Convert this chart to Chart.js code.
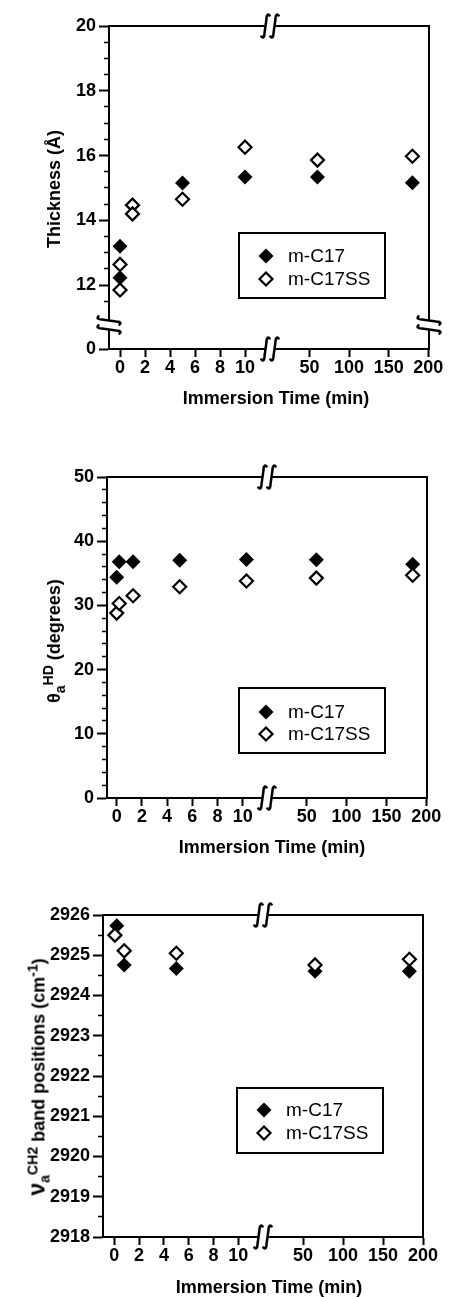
<!DOCTYPE html>
<html lang="en">
<head>
<meta charset="UTF-8">
<title>Immersion time plots</title>
<script src="https://cdn.jsdelivr.net/npm/chart.js"></script>
<style>
  body { margin: 0; width: 450px; height: 1297px; position: relative; background: #fff;
         font-family: "Liberation Sans", Arial, sans-serif; color: #000; }
  canvas { position: absolute; left: 0; }
  .title { position: absolute; white-space: nowrap; font-weight: bold; font-size: 18px; line-height: 1; }
  .xt { transform: translate(-50%, -50%); }
  .yt { transform: translate(-50%, -50%) rotate(-90deg); }
  sub, sup { font-size: 78%; line-height: 0; }
  .nu { font-size: 23px; }
</style>
</head>
<body>
<canvas id="thick" width="450" height="425" style="top:0"></canvas>
<canvas id="angle" width="450" height="430" style="top:425px"></canvas>
<canvas id="band" width="450" height="442" style="top:855px"></canvas>

<div class="title yt" style="left:54px;top:189px">Thickness (Å)</div>
<div class="title xt" style="left:276px;top:398px">Immersion Time (min)</div>

<div class="title yt" style="left:54px;top:641px">θ<sub>a</sub><sup>HD</sup> (degrees)</div>
<div class="title xt" style="left:272px;top:847px">Immersion Time (min)</div>

<div class="title yt" style="left:37px;top:1077px"><span class="nu">ν</span><sub>a</sub><sup>CH2</sup> band positions (cm<sup>-1</sup>)</div>
<div class="title xt" style="left:269px;top:1287px">Immersion Time (min)</div>

<script>
const seriesNames = ['m-C17', 'm-C17SS'];

// film thickness (Å)
const thickTimeC17 = [0, 0, 5, 10, 60, 180];
const thickC17 = [13.2, 12.23, 15.15, 15.34, 15.34, 15.16];
const thickTimeC17SS = [0, 0, 1, 1, 5, 10, 60, 180];
const thickC17SS = [11.85, 12.64, 14.47, 14.2, 14.65, 16.26, 15.86, 15.98];

// advancing contact angle of hexadecane (degrees)
const angleTimeC17 = [0, 0.2, 1.3, 5, 10.3, 62, 183];
const angleC17 = [34.4, 36.8, 36.8, 37.05, 37.15, 37.1, 36.4];
const angleTimeC17SS = [0, 0.2, 1.3, 5, 10.3, 62, 183];
const angleC17SS = [28.8, 30.3, 31.5, 32.9, 33.8, 34.25, 34.7];

// antisymmetric CH2 band position (cm-1)
const bandTimeC17 = [0.2, 0.8, 5, 65, 183];
const bandC17 = [2925.73, 2924.76, 2924.67, 2924.6, 2924.6];
const bandTimeC17SS = [0.05, 0.8, 5, 65, 183];
const bandC17SS = [2925.5, 2925.11, 2925.05, 2924.76, 2924.9];

// ticks
const earlyTicks = [0, 2, 4, 6, 8, 10];
const lateTicks = [50, 100, 150, 200];
const thickTicks = [12, 14, 16, 18, 20];
const thickLowTicks = [0];
const angleTicks = [0, 10, 20, 30, 40, 50];
const bandTicks = [2918, 2919, 2920, 2921, 2922, 2923, 2924, 2925, 2926];

const FONT = '"Liberation Sans", Arial, sans-serif';
const BREAK_T = 12; // last minute on the left part of the time axis

function pts(times, vals, late) {
    return times.map((t, i) => ({ x: t, y: vals[i] }))
        .filter(p => late ? p.x > BREAK_T : p.x <= BREAK_T);
}

function seriesSets(tA, vA, tB, vB, yID) {
    const open = { pointStyle: 'rectRot', pointRadius: 6.5, pointBackgroundColor: '#fff',
                   pointBorderColor: '#000', pointBorderWidth: 2.2, showLine: false };
    const solid = { pointStyle: 'rectRot', pointRadius: 7.5, pointBackgroundColor: '#000',
                    pointBorderColor: '#000', pointBorderWidth: 0, showLine: false };
    // open markers first so they are drawn on top
    return [
        { label: seriesNames[1], data: pts(tB, vB, false), xAxisID: 'x1', yAxisID: yID, ...open },
        { label: seriesNames[1], data: pts(tB, vB, true), xAxisID: 'x2', yAxisID: yID, ...open },
        { label: seriesNames[0], data: pts(tA, vA, false), xAxisID: 'x1', yAxisID: yID, ...solid },
        { label: seriesNames[0], data: pts(tA, vA, true), xAxisID: 'x2', yAxisID: yID, ...solid }
    ];
}

const near = (a, b) => Math.abs(a - b) < 1e-6;

function yAxis(o) {
    const isMajor = v => o.majors.some(m => near(m, v));
    return {
        type: 'linear', position: 'left', min: o.min, max: o.max,
        stack: o.stack, stackWeight: o.weight,
        afterFit: s => { s.width = o.width; },
        afterBuildTicks: s => {
            const list = [];
            const top = o.majors[o.majors.length - 1];
            for (let v = o.from; v <= top + 1e-9; v += o.minor) list.push({ value: +v.toFixed(3) });
            s.ticks = list;
        },
        border: { display: true, color: '#000', width: 2 },
        grid: {
            display: true, drawOnChartArea: false, drawTicks: true, tickLength: 10, tickColor: '#000',
            tickWidth: c => isMajor(c.tick.value) ? 2 : 1.5,
            tickBorderDash: c => isMajor(c.tick.value) ? [] : [0, 5, 5, 30]
        },
        ticks: {
            autoSkip: false, padding: 3, color: '#000',
            font: { family: FONT, size: 18, weight: 'bold' },
            callback: v => isMajor(v) ? v : ''
        }
    };
}

function xAxis(o, late) {
    return {
        type: 'linear', position: 'bottom', stack: 'x',
        stackWeight: late ? o.w2 : o.w1,
        min: late ? 0 : o.x1min, max: late ? o.x2max : o.x1max,
        afterFit: s => { s.height = o.xh; },
        afterBuildTicks: s => { s.ticks = (late ? lateTicks : earlyTicks).map(v => ({ value: v })); },
        border: { display: true, color: '#000', width: 2 },
        grid: { display: true, drawOnChartArea: false, drawTicks: true, tickLength: 8, tickWidth: 2, tickColor: '#000' },
        ticks: { autoSkip: false, maxRotation: 0, padding: 0, color: '#000',
                 font: { family: FONT, size: 18, weight: 'bold' } }
    };
}

// one stroke of the "ʃʃ" axis-break sign, drawn upright around x = cx
function sCurve(ctx, cx, h) {
    const t = -h / 2, b = h / 2;
    ctx.beginPath();
    ctx.moveTo(cx + 4.5, t + 2.5);
    ctx.bezierCurveTo(cx + 3.5, t - 0.5, cx + 1, t - 0.5, cx + 1, t + 5);
    ctx.lineTo(cx - 1, b - 5);
    ctx.bezierCurveTo(cx - 1, b + 0.5, cx - 3.5, b + 0.5, cx - 4.5, b - 2.5);
    ctx.stroke();
}

function breakMark(ctx, x, y, rotate) {
    ctx.save();
    ctx.translate(x, y);
    if (rotate) ctx.rotate(-Math.PI / 2);
    ctx.fillStyle = '#fff';
    ctx.fillRect(-4, -4, 8, 8);
    ctx.lineWidth = 2.5;
    ctx.strokeStyle = '#000';
    sCurve(ctx, -4.5, 24);
    sCurve(ctx, 4.5, 24);
    ctx.restore();
}

const framePlugin = {
    id: 'frame',
    afterDraw(chart) {
        const { ctx, chartArea: a, scales } = chart;
        ctx.save();
        ctx.strokeStyle = '#000';
        ctx.lineWidth = 2;
        ctx.beginPath();
        ctx.moveTo(a.left, a.top);
        ctx.lineTo(a.right, a.top);
        ctx.lineTo(a.right, a.bottom + 1);
        ctx.stroke();
        ctx.restore();
        const xb = scales.x1.right;
        breakMark(ctx, xb, a.top, false);
        breakMark(ctx, xb, a.bottom, false);
        if (scales.yLow) {
            const yb = scales.yLow.top;
            breakMark(ctx, a.left, yb, true);
            breakMark(ctx, a.right, yb, true);
        }
    }
};

function diamond(ctx, x, y, r) {
    ctx.beginPath();
    ctx.moveTo(x - r, y);
    ctx.lineTo(x, y - r);
    ctx.lineTo(x + r, y);
    ctx.lineTo(x, y + r);
    ctx.closePath();
}

const legendPlugin = {
    id: 'boxLegend',
    afterDatasetsDraw(chart, args, o) {
        const { ctx, chartArea: a } = chart;
        const x = a.left + o.dx, y = a.top + o.dy;
        ctx.save();
        ctx.fillStyle = '#fff';
        ctx.fillRect(x, y, o.w, o.h);
        ctx.lineWidth = 2;
        ctx.strokeStyle = '#000';
        ctx.strokeRect(x, y, o.w, o.h);
        ctx.font = '19px ' + FONT;
        ctx.textBaseline = 'middle';
        seriesNames.forEach((name, i) => {
            const cy = y + o.rows[i];
            if (i === 0) {
                diamond(ctx, x + 27, cy, 7.5);
                ctx.fillStyle = '#000';
                ctx.fill();
            } else {
                diamond(ctx, x + 27, cy, 6.5);
                ctx.fillStyle = '#fff';
                ctx.fill();
                ctx.lineWidth = 2.2;
                ctx.stroke();
            }
            ctx.fillStyle = '#000';
            ctx.fillText(name, x + 49, cy + 1);
        });
        ctx.restore();
    }
};

function makeChart(id, o, datasets, yScales) {
    const scales = { x1: xAxis(o, false), x2: xAxis(o, true), ...yScales };
    return new Chart(document.getElementById(id), {
        type: 'scatter',
        data: { datasets },
        options: {
            responsive: false,
            animation: false,
            events: [],
            layout: { padding: { top: o.padTop, right: o.padRight, bottom: 0, left: 0 } },
            scales,
            plugins: {
                legend: { display: false },
                tooltip: { enabled: false },
                boxLegend: o.legend
            }
        },
        plugins: [legendPlugin, framePlugin]
    });
}

// panel 1: broken y axis (0 | 10.8..20)
const p1 = { padTop: 26, padRight: 21, xh: 76, w1: 161, w2: 159, x1min: -0.88, x1max: 12, x2max: 201,
             legend: { dx: 130, dy: 207, w: 146, h: 65, rows: [23, 46] } };
makeChart('thick', p1, seriesSets(thickTimeC17, thickC17, thickTimeC17SS, thickC17SS, 'yUp'), {
    yLow: yAxis({ min: 0, max: 1, stack: 'y', weight: 24, width: 109, majors: thickLowTicks, from: 0, minor: 1 }),
    yUp: yAxis({ min: 10.77, max: 20, stack: 'y', weight: 299, width: 109, majors: thickTicks, from: 11.5, minor: 0.5 })
});

// panel 2
const p2 = { padTop: 52, padRight: 23, xh: 57, w1: 160, w2: 160, x1min: -0.77, x1max: 11.93, x2max: 201,
             legend: { dx: 132, dy: 211, w: 146, h: 65, rows: [24, 46] } };
makeChart('angle', p2, seriesSets(angleTimeC17, angleC17, angleTimeC17SS, angleC17SS, 'y'), {
    y: yAxis({ min: 0, max: 50, width: 107, majors: angleTicks, from: 0, minor: 2 })
});

// panel 3
const p3 = { padTop: 60, padRight: 27, xh: 60, w1: 160, w2: 160, x1min: -0.91, x1max: 11.99, x2max: 200,
             legend: { dx: 134, dy: 173, w: 146, h: 65, rows: [22, 45] } };
makeChart('band', p3, seriesSets(bandTimeC17, bandC17, bandTimeC17SS, bandC17SS, 'y'), {
    y: yAxis({ min: 2918, max: 2926, width: 103, majors: bandTicks, from: 2918, minor: 0.5 })
});
</script>
</body>
</html>
